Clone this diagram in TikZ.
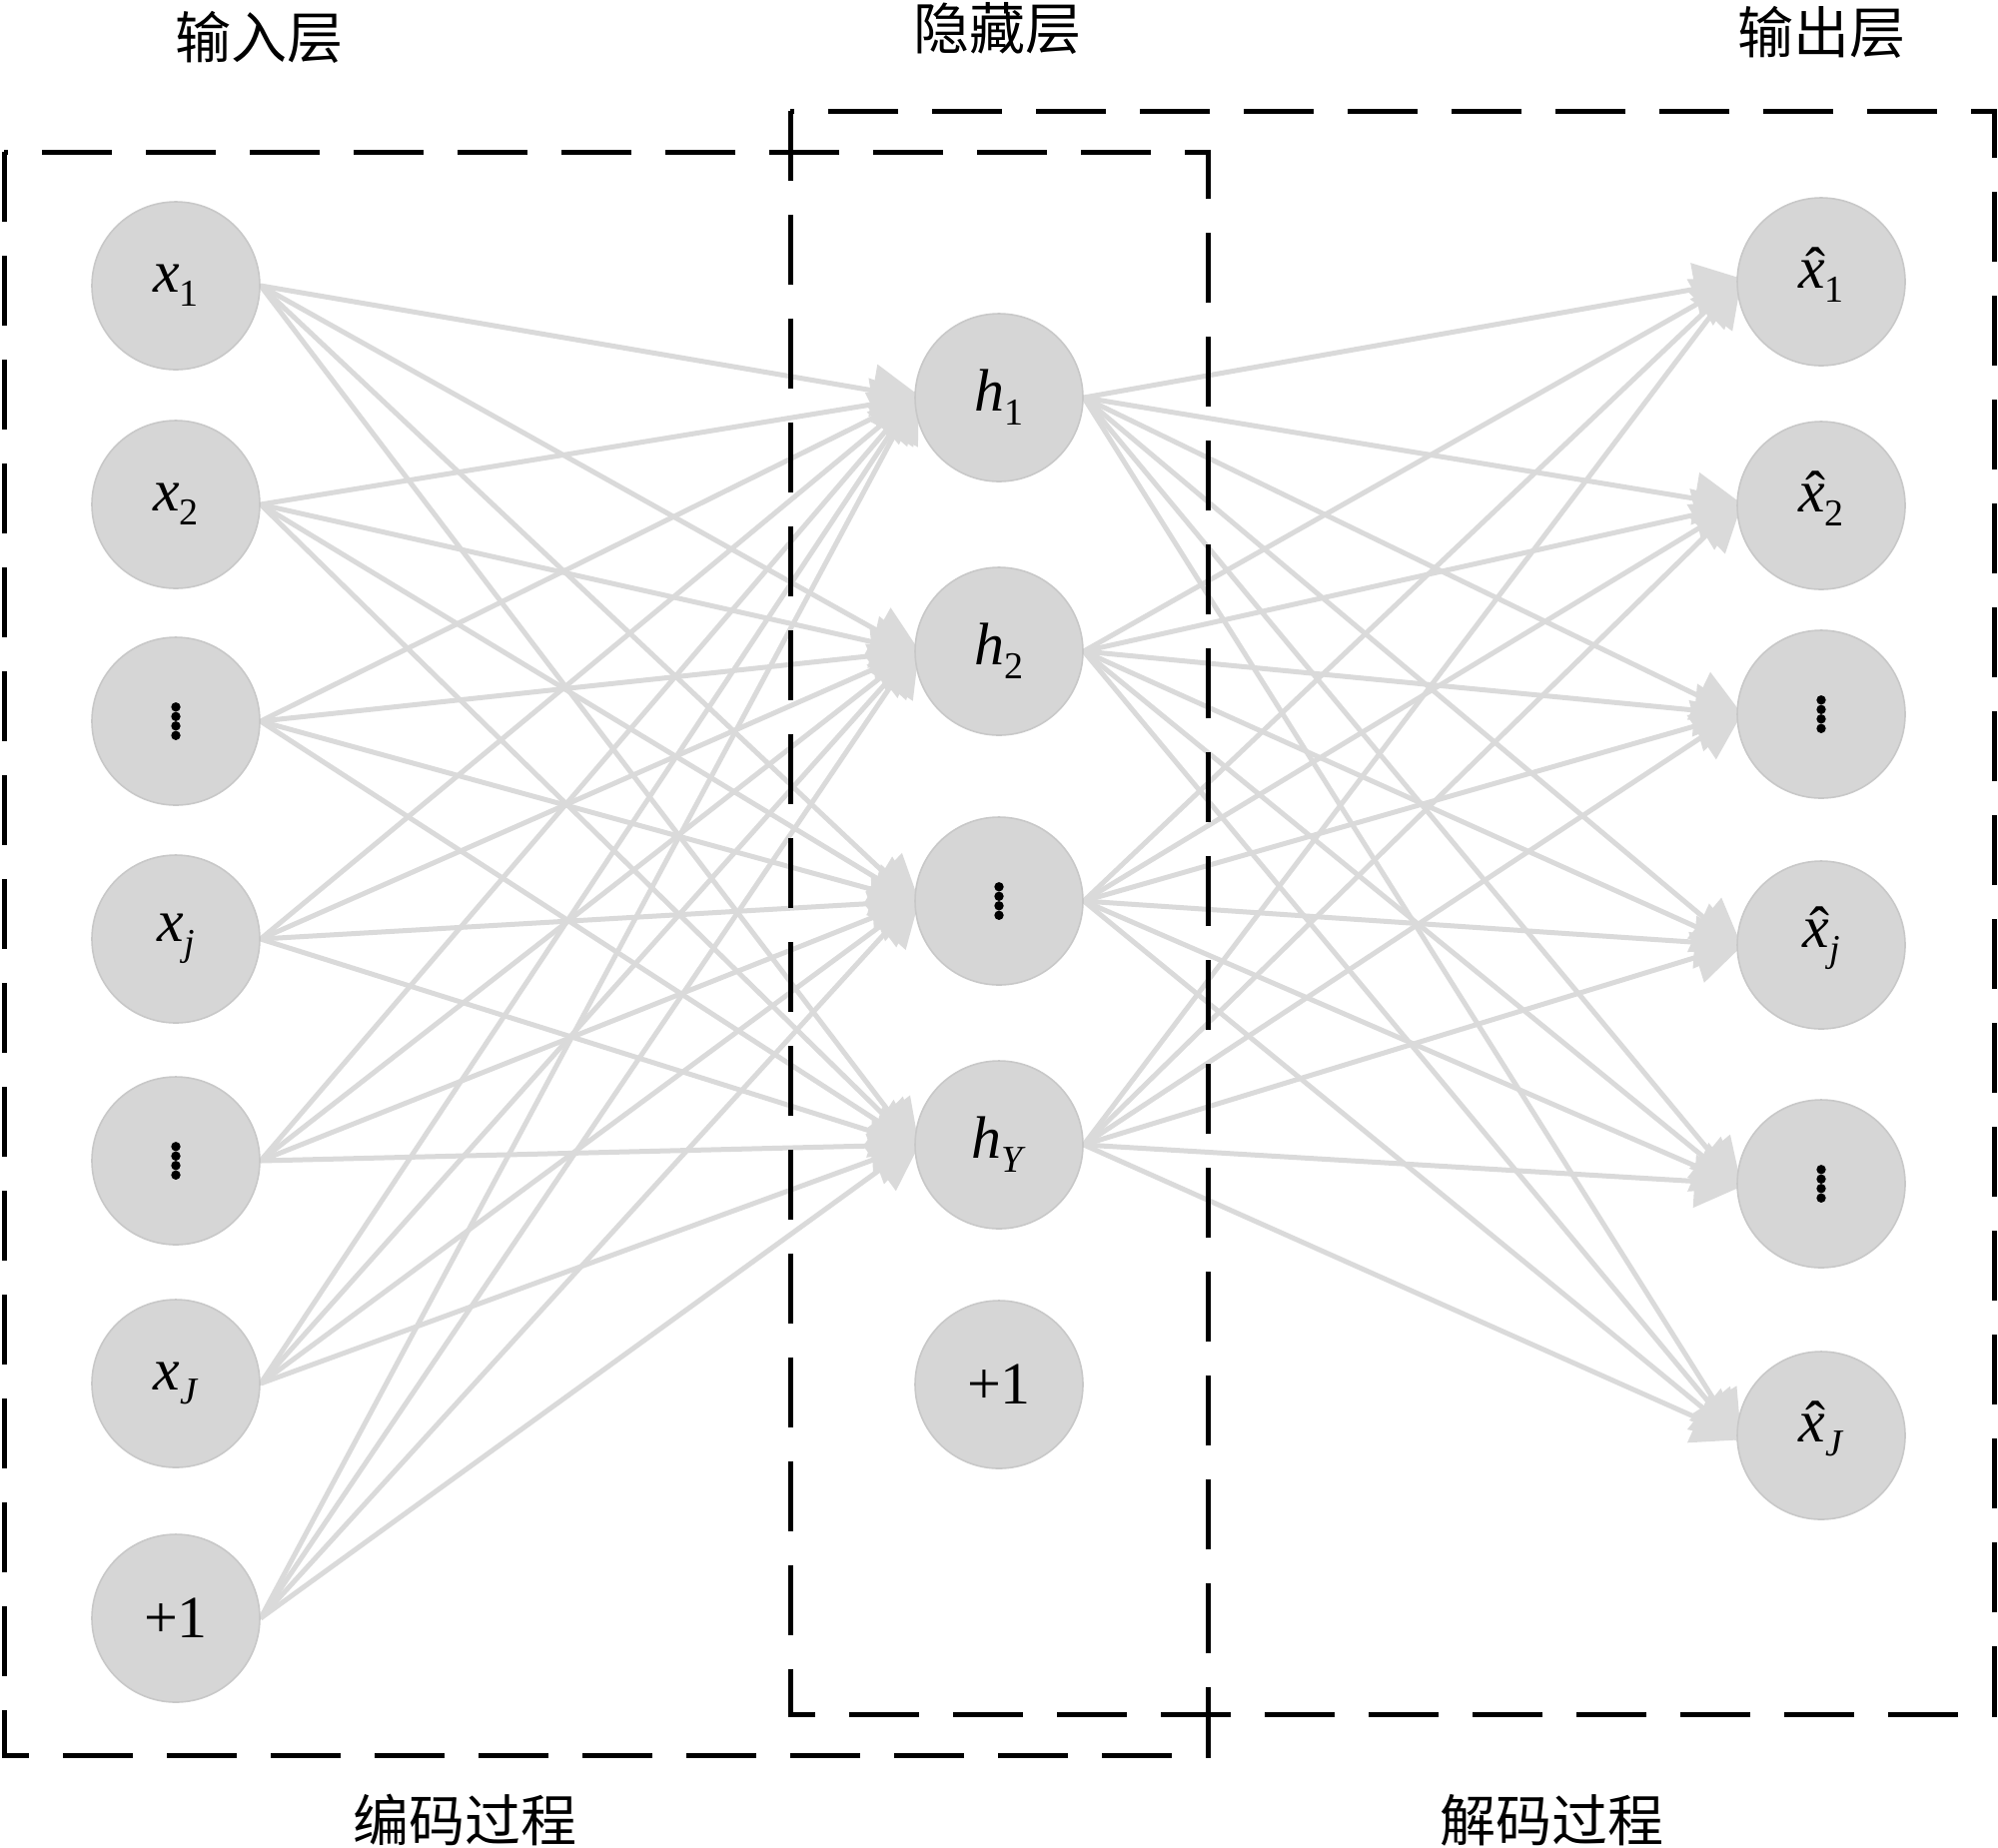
\documentclass[tikz,border=0pt]{standalone}
\usepackage{fontspec}
\setmainfont{Liberation Serif}
\newfontfamily\cjk{Noto Sans CJK SC}
\usetikzlibrary{arrows.meta,backgrounds}
\definecolor{nodefill}{HTML}{D6D6D6}
\definecolor{nodeedge}{HTML}{C8C8C8}
\definecolor{linkc}{HTML}{DADADA}
\newcommand\varsub[2]{#1\raisebox{-7pt}{\fontsize{19}{19}\selectfont #2}}
\newcommand\xit{\textit{x}}
\newcommand\hatx{\ooalign{\textit{x}\cr\hidewidth\hspace{0.12em}\raisebox{-0.02em}{ˆ}\hidewidth\cr}}
\begin{document}
\begin{tikzpicture}[x=0.5pt,y=-0.5pt,
  neuron/.style={circle,minimum size=84pt,inner sep=0pt,fill=nodefill,draw=nodeedge,line width=0.8pt,font=\fontsize{30}{36}\selectfont},
  linkarr/.style={draw=linkc,line width=2.5pt,shorten >=-5pt,-{Triangle[length=26pt,width=26pt]}},
  frame/.style={draw=black,line width=2.5pt,dash pattern=on 35pt off 17pt},
  layertitle/.style={font=\cjk\fontsize{28}{34}\selectfont,inner sep=0pt}]
\useasboundingbox (0,0) rectangle (2000,1849);

% input layer
\node[neuron] (i1) at (176,286) {\varsub{\xit}{1}};
\node[neuron] (i2) at (176,505) {\varsub{\xit}{2}};
\node[neuron] (i3) at (176,722) {};
\node[neuron] (i4) at (176,940) {\varsub{\xit}{\textit{j}}};
\node[neuron] (i5) at (176,1162) {};
\node[neuron] (i6) at (176,1385) {\varsub{\xit}{\textit{J}}};
\node[neuron] (i7) at (176,1620) {+1};

% hidden layer
\node[neuron] (h1) at (1000,398) {\varsub{\textit{h}}{1}};
\node[neuron] (h2) at (1000,652) {\varsub{\textit{h}}{2}};
\node[neuron] (h3) at (1000,902) {};
\node[neuron] (h4) at (1000,1146) {\varsub{\textit{h}}{\textit{Y}}};
\node[neuron] (h5) at (1000,1386) {+1};

% output layer
\node[neuron] (o1) at (1823,282) {\varsub{\hatx}{1}};
\node[neuron] (o2) at (1823,506) {\varsub{\hatx}{2}};
\node[neuron] (o3) at (1823,715) {};
\node[neuron] (o4) at (1823,946) {\varsub{\hatx}{\textit{j}}};
\node[neuron] (o5) at (1823,1185) {};
\node[neuron] (o6) at (1823,1437) {\varsub{\hatx}{\textit{J}}};

% vertical dots
\foreach \n in {i3,i5,h3,o3,o5}
  \foreach \k in {-1.5,-0.5,0.5,1.5}
    \fill[black] ([yshift=\k*4.75pt]\n.center) circle (2.35pt);

% connections
\begin{scope}[on background layer]
\foreach \i in {1,...,7}
  \foreach \h in {1,...,4}
    \draw[linkarr] (i\i.east) -- (h\h.west);
\foreach \h in {1,...,4}
  \foreach \o in {1,...,6}
    \draw[linkarr] (h\h.east) -- (o\o.west);
\end{scope}

% dashed frames
\draw[frame] (4,152) rectangle (1209,1757);
\draw[frame] (791,111) rectangle (1996,1716);

% titles
\node[layertitle] (t1) at (259,37) {输入层};
\node[layertitle] (t2) at (998,28) {隐藏层};
\node[layertitle] (t3) at (1823,32) {输出层};
\node[layertitle] (t4) at (465,1822) {编码过程};
\node[layertitle] (t5) at (1553,1822) {解码过程};
\end{tikzpicture}
\end{document}
